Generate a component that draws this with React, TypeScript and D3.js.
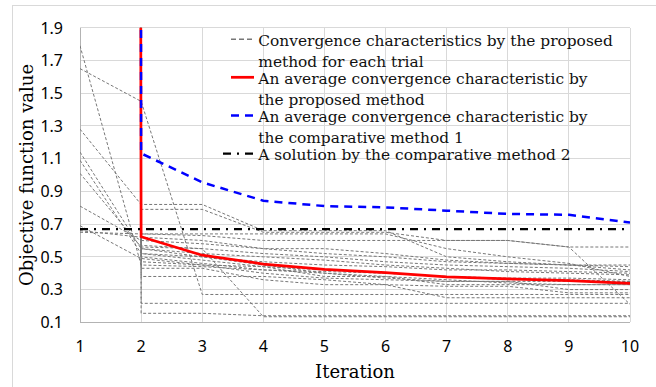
import { useEffect, useRef } from "react";
import * as d3 from "d3";

const iterations = [1, 2, 3, 4, 5, 6, 7, 8, 9, 10];
const yTicks = [0.1, 0.3, 0.5, 0.7, 0.9, 1.1, 1.3, 1.5, 1.7, 1.9];

// convergence of each trial (proposed method); the first value of some trials is far above the axis
const trials: number[][] = [
  [1.79, 0.45, 0.44, 0.42, 0.41, 0.4, 0.38, 0.37, 0.37, 0.36],
  [1.65, 1.45, 0.27, 0.27, 0.27, 0.27, 0.27, 0.27, 0.27, 0.27],
  [1.28, 0.82, 0.82, 0.66, 0.66, 0.66, 0.5, 0.47, 0.45, 0.42],
  [1.14, 0.55, 0.52, 0.5, 0.48, 0.45, 0.43, 0.41, 0.4, 0.39],
  [1.09, 0.52, 0.5, 0.47, 0.45, 0.44, 0.42, 0.42, 0.41, 0.4],
  [1.01, 0.56, 0.55, 0.52, 0.5, 0.47, 0.45, 0.44, 0.43, 0.41],
  [0.81, 0.6, 0.58, 0.55, 0.55, 0.52, 0.48, 0.46, 0.45, 0.44],
  [0.69, 0.49, 0.45, 0.4, 0.37, 0.36, 0.35, 0.35, 0.3, 0.3],
  [0.65, 0.64, 0.64, 0.64, 0.64, 0.64, 0.55, 0.5, 0.46, 0.38],
  [0.66, 0.62, 0.6, 0.55, 0.52, 0.5, 0.47, 0.46, 0.45, 0.45],
  [420, 0.79, 0.79, 0.65, 0.65, 0.65, 0.6, 0.6, 0.56, 0.56],
  [380, 0.64, 0.63, 0.6, 0.6, 0.6, 0.6, 0.6, 0.56, 0.21],
  [510, 0.57, 0.55, 0.134, 0.134, 0.134, 0.134, 0.134, 0.134, 0.134],
  [460, 0.55, 0.5, 0.45, 0.4, 0.37, 0.35, 0.35, 0.35, 0.35],
  [395, 0.52, 0.48, 0.44, 0.42, 0.4, 0.38, 0.36, 0.36, 0.35],
  [440, 0.5, 0.46, 0.42, 0.4, 0.38, 0.36, 0.34, 0.33, 0.33],
  [480, 0.47, 0.45, 0.44, 0.38, 0.38, 0.33, 0.33, 0.33, 0.33],
  [405, 0.43, 0.43, 0.36, 0.33, 0.33, 0.32, 0.32, 0.28, 0.28],
  [450, 0.38, 0.38, 0.38, 0.36, 0.33, 0.25, 0.25, 0.25, 0.25],
  [430, 0.216, 0.216, 0.216, 0.216, 0.216, 0.216, 0.216, 0.216, 0.216],
  [470, 0.155, 0.155, 0.14, 0.14, 0.14, 0.14, 0.14, 0.14, 0.14],
];

const proposedAverage = [230, 0.623, 0.51, 0.456, 0.424, 0.403, 0.378, 0.366, 0.354, 0.338];
const comparative1Average = [520, 1.132, 0.955, 0.843, 0.81, 0.802, 0.782, 0.762, 0.757, 0.71];
const comparative2Solution = [0.67, 0.67, 0.67, 0.67, 0.67, 0.67, 0.67, 0.67, 0.67, 0.67];

const legendLabels: string[][] = [
  ["Convergence characteristics by the proposed", "method for each trial"],
  ["An average convergence characteristic by", "the proposed method"],
  ["An average convergence characteristic by", "the comparative method 1"],
  ["A solution by the comparative method 2"],
];

const W = 656;
const H = 387;
const margin = { left: 80, right: 26, top: 27.7, bottom: 64.7 };

const styles = [
  { stroke: "#777777", width: 1, dash: "3,2", x0: 231, x1: 255 },
  { stroke: "#ff0000", width: 2.75, dash: null, x0: 231, x1: 254 },
  { stroke: "#0000ff", width: 2.5, dash: "8,6", x0: 231, x1: 254 },
  { stroke: "#000000", width: 2.25, dash: "8,6,2,6", x0: 223, x1: 257 },
];

export default function App() {
  const svgRef = useRef<SVGSVGElement>(null);

  useEffect(() => {
    document.body.style.margin = "0";
    if (!svgRef.current) return;
    const svg = d3.select(svgRef.current);
    svg.selectAll("*").remove();

    const x = d3.scaleLinear().domain([1, 10]).range([margin.left, W - margin.right]);
    const y = d3.scaleLinear().domain([0.1, 1.9]).range([H - margin.bottom, margin.top]);
    const [px0, px1] = x.range();
    const [py1, py0] = y.range();

    // outer chart frame
    svg.append("rect")
      .attr("x", 12.5).attr("y", 5.5).attr("width", 700).attr("height", 420)
      .attr("fill", "white").attr("stroke", "#d9d9d9");

    svg.append("defs").append("clipPath").attr("id", "plot-clip")
      .append("rect")
      .attr("x", px0).attr("y", py0).attr("width", px1 - px0).attr("height", py1 - py0);

    const grid = svg.append("g").attr("shape-rendering", "crispEdges");
    grid.selectAll("line.h")
      .data(yTicks.slice(1))
      .join("line")
      .attr("x1", px0).attr("x2", px1)
      .attr("y1", (d) => y(d)).attr("y2", (d) => y(d))
      .attr("stroke", "#d9d9d9");
    grid.selectAll("line.v")
      .data(iterations.slice(1))
      .join("line")
      .attr("class", "v")
      .attr("x1", (d) => x(d)).attr("x2", (d) => x(d))
      .attr("y1", py0).attr("y2", py1)
      .attr("stroke", "#d9d9d9");
    // axis lines
    grid.append("line").attr("x1", px0).attr("x2", px0).attr("y1", py0).attr("y2", py1).attr("stroke", "#b3b3b3");
    grid.append("line").attr("x1", px0).attr("x2", px1).attr("y1", py1).attr("y2", py1).attr("stroke", "#b3b3b3");

    // tick labels
    svg.append("g")
      .selectAll("text")
      .data(yTicks)
      .join("text")
      .attr("x", 63)
      .attr("y", (d) => y(d) + 5.8)
      .attr("text-anchor", "end")
      .attr("font-family", "'Noto Sans', sans-serif")
      .attr("font-size", 16)
      .attr("fill", "#000")
      .text((d) => d.toFixed(1));
    svg.append("g")
      .selectAll("text")
      .data(iterations)
      .join("text")
      .attr("x", (d) => x(d))
      .attr("y", 351.8)
      .attr("text-anchor", "middle")
      .attr("font-family", "'Noto Sans', sans-serif")
      .attr("font-size", 16)
      .attr("fill", "#000")
      .text((d) => String(d));

    // axis titles
    svg.append("text")
      .attr("x", (px0 + px1) / 2).attr("y", 378)
      .attr("text-anchor", "middle")
      .attr("font-family", "'DejaVu Serif', serif")
      .attr("font-size", 18)
      .text("Iteration");
    svg.append("text")
      .attr("transform", `translate(33,${(py0 + py1) / 2}) rotate(-90)`)
      .attr("text-anchor", "middle")
      .attr("font-family", "'DejaVu Serif', serif")
      .attr("font-size", 18)
      .text("Objective function value");

    const line = d3.line<number>()
      .x((_, i) => x(iterations[i]))
      .y((d) => y(d));

    const plot = svg.append("g").attr("clip-path", "url(#plot-clip)");
    plot.selectAll("path.trial")
      .data(trials)
      .join("path")
      .attr("class", "trial")
      .attr("d", (d) => line(d))
      .attr("fill", "none")
      .attr("stroke", styles[0].stroke)
      .attr("stroke-width", styles[0].width)
      .attr("stroke-dasharray", styles[0].dash);

    const series = [proposedAverage, comparative1Average, comparative2Solution];
    series.forEach((s, i) => {
      const st = styles[i + 1];
      plot.append("path")
        .attr("d", line(s))
        .attr("fill", "none")
        .attr("stroke", st.stroke)
        .attr("stroke-width", st.width)
        .attr("stroke-dasharray", st.dash)
        .attr("stroke-linejoin", "round");
    });

    // legend
    const legend = svg.append("g");
    legendLabels.forEach((lines, i) => {
      const base = 45.7 + i * 38.1;
      const st = styles[i];
      legend.append("line")
        .attr("x1", st.x0).attr("x2", st.x1)
        .attr("y1", base - 6.5).attr("y2", base - 6.5)
        .attr("stroke", st.stroke)
        .attr("stroke-width", i === 0 ? 1.5 : st.width)
        .attr("stroke-dasharray", i === 0 ? "5,3" : st.dash);
      lines.forEach((t, j) => {
        legend.append("text")
          .attr("x", 258.3)
          .attr("y", base + j * 21)
          .attr("font-family", "'DejaVu Serif', serif")
          .attr("font-size", 15.4)
          .attr("fill", "#111")
          .text(t);
      });
    });
  }, []);

  return <svg ref={svgRef} width={W} height={H} style={{ display: "block" }} />;
}
